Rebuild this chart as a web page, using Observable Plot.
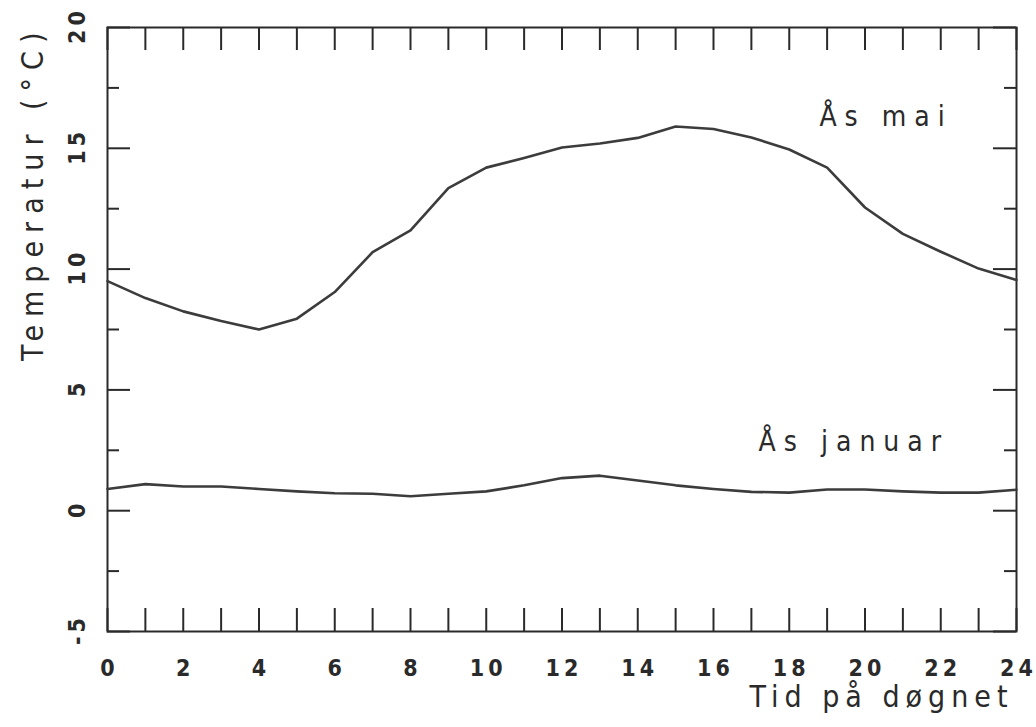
<!DOCTYPE html>
<html>
<head>
<meta charset="utf-8">
<script src="https://cdn.jsdelivr.net/npm/d3@7"></script>
<script src="https://cdn.jsdelivr.net/npm/@observablehq/plot@0.6"></script>
<style>
  html, body { margin: 0; padding: 0; background: #fff; }
  #chart svg { display: block; }
  #chart svg text { font-stretch: condensed; }
  g[aria-description="xticklabels"] text { letter-spacing: 4px; }
  g[aria-description="yticklabels"] text { letter-spacing: 4px; }
  g[aria-description="xtitle"] text { letter-spacing: 6px; }
  g[aria-description="ytitle"] text { letter-spacing: 8px; }
  g[aria-description="serieslabels"] text { letter-spacing: 8px; }
</style>
</head>
<body>
<div id="chart"></div>
<script>
// Hour of day (x)
const hours = [0,1,2,3,4,5,6,7,8,9,10,11,12,13,14,15,16,17,18,19,20,21,22,23,24];
// Mean temperature (°C), Ås, May
const mayTemp = [9.5, 8.8, 8.25, 7.85, 7.5, 7.95, 9.05, 10.7, 11.6, 13.35, 14.2, 14.6, 15.03, 15.2, 15.43, 15.9, 15.8, 15.45, 14.95, 14.2, 12.55, 11.46, 10.72, 10.02, 9.55];
// Mean temperature (°C), Ås, January
const janTemp = [0.9, 1.1, 1.0, 1.0, 0.9, 0.8, 0.72, 0.7, 0.6, 0.7, 0.8, 1.05, 1.35, 1.45, 1.25, 1.05, 0.9, 0.78, 0.75, 0.88, 0.88, 0.8, 0.75, 0.75, 0.87];

// Axis ticks
const xTickLabels = [0,2,4,6,8,10,12,14,16,18,20,22,24];
const hourTicks = [0,1,2,3,4,5,6,7,8,9,10,11,12,13,14,15,16,17,18,19,20,21,22,23,24];
const yMajor = [-5, 0, 5, 10, 15, 20];
const yMinor = [-2.5, 2.5, 7.5, 12.5, 17.5];

// Series labels
const seriesNames = ["Ås mai", "Ås januar"];
const seriesLabelX = [20.45, 19.6];
const seriesLabelY = [16.3, 2.86];

const xTitle = "Tid på døgnet";
const yTitle = "Temperatur (°C)";

const W = 1036, H = 727;
const M = {top: 27, right: 20, bottom: 96, left: 107};
const innerW = W - M.left - M.right;
const innerH = H - M.top - M.bottom;

const may = hours.map((h, i) => ({hour: h, temp: mayTemp[i]}));
const jan = hours.map((h, i) => ({hour: h, temp: janTemp[i]}));
const seriesLabels = seriesNames.map((n, i) => ({name: n, x: seriesLabelX[i], y: seriesLabelY[i]}));

const ink = "#2a2a2a";
const lineInk = "#3c3c3c";
const font = "'Liberation Sans Narrow', 'DejaVu Sans Condensed', 'DejaVu Sans', sans-serif";

const chart = Plot.plot({
  width: W,
  height: H,
  marginTop: M.top,
  marginRight: M.right,
  marginBottom: M.bottom,
  marginLeft: M.left,
  style: {fontFamily: font, background: "#fff", color: ink},
  x: {domain: [0, 24], axis: null},
  y: {domain: [-5, 20], axis: null},
  marks: [
    // inward ticks: bottom & top
    Plot.tickX(hourTicks, {x: d => d, insetTop: innerH - 23, stroke: ink, strokeWidth: 2}),
    Plot.tickX(hourTicks, {x: d => d, insetBottom: innerH - 23, stroke: ink, strokeWidth: 2}),
    // inward ticks: left & right
    Plot.tickY(yMajor, {y: d => d, insetRight: innerW - 23, stroke: ink, strokeWidth: 2}),
    Plot.tickY(yMinor, {y: d => d, insetRight: innerW - 12, stroke: ink, strokeWidth: 2}),
    Plot.tickY(yMajor, {y: d => d, insetLeft: innerW - 23, stroke: ink, strokeWidth: 2}),
    Plot.tickY(yMinor, {y: d => d, insetLeft: innerW - 12, stroke: ink, strokeWidth: 2}),
    Plot.frame({stroke: ink, strokeWidth: 2}),
    // series
    Plot.line(may, {x: "hour", y: "temp", stroke: lineInk, strokeWidth: 2.6}),
    Plot.line(jan, {x: "hour", y: "temp", stroke: lineInk, strokeWidth: 2.6}),
    // x tick labels
    Plot.axisX(xTickLabels, {anchor: "bottom", tickSize: 0, tickPadding: 28, fontSize: 23, fontWeight: "bold", dx: 2, label: null, ariaDescription: "xticklabels", tickFormat: d => String(d), fill: ink}),
    // y tick labels (rotated)
    Plot.text(yMajor, {y: d => d, text: d => String(d), frameAnchor: "left", dx: -23, dy: -2, rotate: -90, textAnchor: "middle", lineAnchor: "bottom", fontSize: 23, fontWeight: "bold", ariaDescription: "yticklabels", fill: ink}),
    // axis titles
    Plot.text([xTitle], {text: d => d, frameAnchor: "bottom-right", dx: -3, dy: 75, textAnchor: "end", lineAnchor: "bottom", fontSize: 30, ariaDescription: "xtitle", fill: ink}),
    Plot.text([yTitle], {text: d => d, frameAnchor: "top-left", dx: -65, dy: -3, rotate: -90, textAnchor: "end", lineAnchor: "bottom", fontSize: 30, ariaDescription: "ytitle", fill: ink}),
    // series labels
    Plot.text(seriesLabels, {x: "x", y: "y", text: "name", textAnchor: "middle", lineAnchor: "middle", fontSize: 28, dx: 4, ariaDescription: "serieslabels", fill: ink})
  ]
});
document.getElementById("chart").appendChild(chart);
</script>
</body>
</html>
